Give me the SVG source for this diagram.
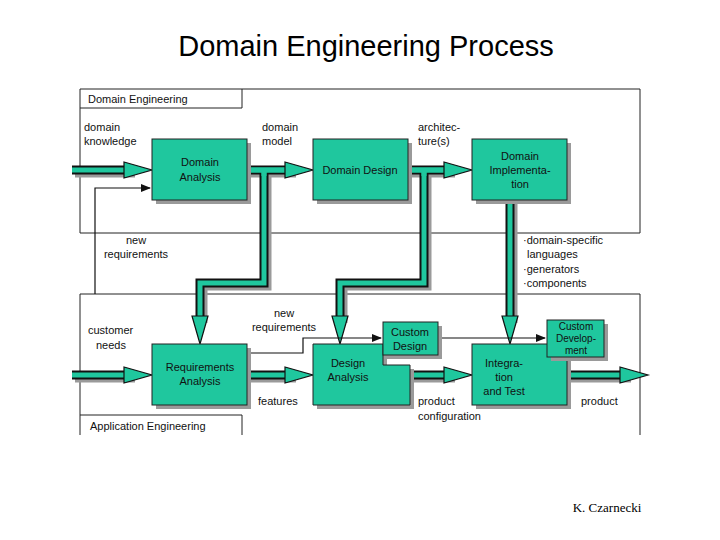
<svg xmlns="http://www.w3.org/2000/svg" width="720" height="540" viewBox="0 0 720 540">
<style>
.t{font-family:"Liberation Sans",Arial,sans-serif;font-size:11px;fill:#111}
.c{text-anchor:middle}
.frame{fill:none;stroke:#222;stroke-width:1}
.node{fill:#1fc79e;stroke:#222;stroke-width:1}
.sh{fill:#9a9a9a}
.po{fill:none;stroke:#111;stroke-width:9}
.pi{fill:none;stroke:#1fc79e;stroke-width:5}
.ps{fill:none;stroke:#9a9a9a;stroke-width:9}
.hd{fill:#1fc79e;stroke:#111;stroke-width:1.2}
.thin{fill:none;stroke:#111;stroke-width:1.2}
</style>
<defs>
<marker id="ah" markerWidth="10" markerHeight="8" refX="9" refY="4" orient="auto" markerUnits="userSpaceOnUse">
<path d="M0,0 L10,4 L0,8 Z" fill="#111"/></marker>
</defs>
<rect width="720" height="540" fill="#fff"/>
<text x="366" y="56" class="c" style="font-family:'Liberation Sans',Arial,sans-serif;font-size:29px">Domain Engineering Process</text>
<text x="607" y="512" class="c" style="font-family:'Liberation Serif',serif;font-size:13px">K. Czarnecki</text>

<g id="frames">
<path class="frame" d="M80,233 V89 H640 V233 H80 M242,89 V108 H80"/>
<path class="frame" d="M80,435 V294 H640 V435 M80,415 H242 V435"/>
<text x="88" y="103" class="t">Domain Engineering</text>
<text x="90" y="430" class="t">Application Engineering</text>
</g>

<g id="connectors">
<g transform="translate(3,3)">
<path class="ps" d="M72,170 H132 M247,170 H293 M264,170 V283 H200 V320 M408,170 H452 M424,170 V283 H340 V320 M510,200 V320 M72,375 H132 M247,375 H293 M410,375 H452 M567,375 H628"/>
</g>
<path class="po" d="M72,170 H132 M247,170 H293 M264,170 V283 H200 V320 M408,170 H452 M424,170 V283 H340 V320 M510,200 V320 M72,375 H132 M247,375 H293 M410,375 H452 M567,375 H628"/>
<path class="pi" d="M72,170 H134 M247,170 H295 M264,170 V283 H200 V322 M408,170 H454 M424,170 V283 H340 V322 M510,200 V322 M72,375 H134 M247,375 H295 M410,375 H454 M567,375 H630"/>
<path class="pi" d="M247,170 H295 M408,170 H454 M264,168 V176 M424,168 V176"/>
<polygon class="hd" points="124,162 152,170 124,178"/>
<polygon class="hd" points="285,162 313,170 285,178"/>
<polygon class="hd" points="444,162 472,170 444,178"/>
<polygon class="hd" points="124,367 152,375 124,383"/>
<polygon class="hd" points="285,367 313,375 285,383"/>
<polygon class="hd" points="444,367 472,375 444,383"/>
<polygon class="hd" points="620,367 648,375 620,383"/>
<polygon class="hd" points="192,316 200,344 208,316"/>
<polygon class="hd" points="332,316 340,344 348,316"/>
<polygon class="hd" points="502,316 510,344 518,316"/>
<path class="thin" d="M95,294 V188 H150" marker-end="url(#ah)"/>
<path class="thin" d="M247,353 H303 V338 H381" marker-end="url(#ah)"/>
<path class="thin" d="M438,338 H545" marker-end="url(#ah)"/>
</g>

<g id="domain-analysis">
<rect class="sh" x="156" y="143" width="95" height="61"/>
<rect class="node" x="152" y="139" width="95" height="61"/>
<text x="200" y="166" class="t c">Domain</text><text x="200" y="181" class="t c">Analysis</text>
</g>
<g id="domain-design">
<rect class="sh" x="317" y="143" width="95" height="61"/>
<rect class="node" x="313" y="139" width="95" height="61"/>
<text x="360" y="174" class="t c">Domain Design</text>
</g>
<g id="domain-implementation">
<rect class="sh" x="476" y="143" width="95" height="61"/>
<rect class="node" x="472" y="139" width="95" height="61"/>
<text x="520" y="160" class="t c">Domain</text><text x="520" y="174" class="t c">Implementa-</text><text x="520" y="188" class="t c">tion</text>
</g>
<g id="requirements-analysis">
<rect class="sh" x="156" y="348" width="95" height="61"/>
<rect class="node" x="152" y="344" width="95" height="61"/>
<text x="200" y="371" class="t c">Requirements</text><text x="200" y="385" class="t c">Analysis</text>
</g>
<g id="design-analysis">
<path class="sh" d="M317,348 H387 V369 H414 V409 H317 Z"/>
<path class="node" d="M313,344 H383 V365 H410 V405 H313 Z"/>
<text x="348" y="367" class="t c">Design</text><text x="348" y="381" class="t c">Analysis</text>
</g>
<g id="custom-design">
<rect class="sh" x="387" y="326" width="55" height="33"/>
<rect class="node" x="383" y="322" width="55" height="33"/>
<text x="410" y="336" class="t c">Custom</text><text x="410" y="350" class="t c">Design</text>
</g>
<g id="integration-test">
<rect class="sh" x="476" y="348" width="95" height="61"/>
<rect class="node" x="472" y="344" width="95" height="61"/>
<text x="504" y="367" class="t c">Integra-</text><text x="504" y="381" class="t c">tion</text><text x="504" y="395" class="t c">and Test</text>
</g>
<g id="custom-development">
<rect class="sh" x="551" y="324" width="57" height="37"/>
<rect class="node" x="547" y="320" width="57" height="37"/>
<text x="576" y="330" class="t c" style="font-size:10px">Custom</text><text x="576" y="342" class="t c" style="font-size:10px">Develop-</text><text x="576" y="354" class="t c" style="font-size:10px">ment</text>
</g>

<g id="labels">
<text x="84" y="131" class="t">domain</text><text x="84" y="145" class="t">knowledge</text>
<text x="262" y="131" class="t">domain</text><text x="262" y="145" class="t">model</text>
<text x="418" y="131" class="t">architec-</text><text x="418" y="145" class="t">ture(s)</text>
<text x="136" y="244" class="t c">new</text><text x="136" y="258" class="t c">requirements</text>
<text x="523" y="244" class="t">·domain-specific</text><text x="527" y="258" class="t">languages</text>
<text x="523" y="273" class="t">·generators</text><text x="523" y="287" class="t">·components</text>
<text x="284" y="317" class="t c">new</text><text x="284" y="331" class="t c">requirements</text>
<text x="88" y="334" class="t">customer</text><text x="96" y="349" class="t">needs</text>
<text x="258" y="405" class="t">features</text>
<text x="418" y="405" class="t">product</text><text x="418" y="420" class="t">configuration</text>
<text x="581" y="405" class="t">product</text>
</g>
</svg>
